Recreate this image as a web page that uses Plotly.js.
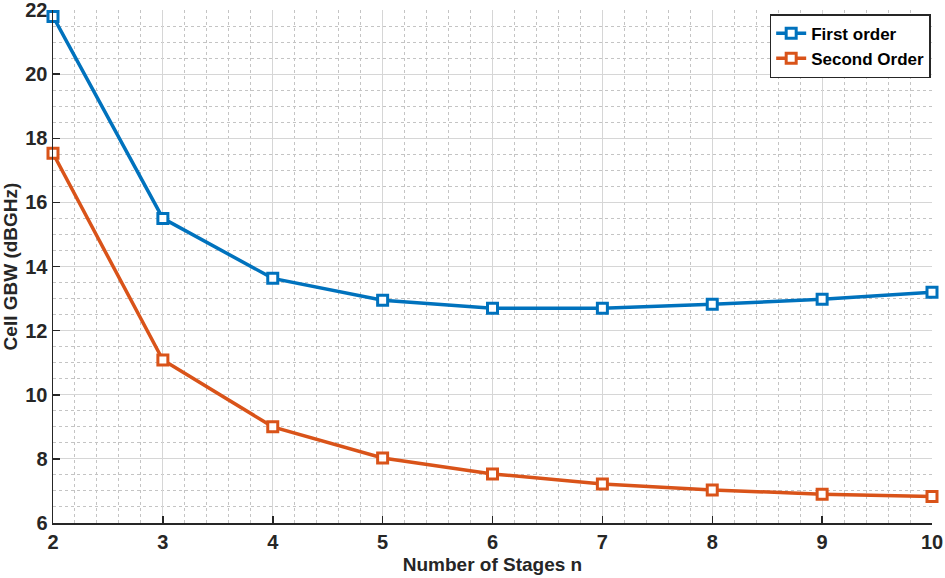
<!DOCTYPE html>
<html>
<head>
<meta charset="utf-8">
<script src="https://cdn.plot.ly/plotly-3.0.1.min.js"></script>
<style>html,body{margin:0;padding:0;background:#fff}#chart{width:945px;height:578px}</style>
</head>
<body>
<div id="chart"></div>
<script>
const stages = [2, 3, 4, 5, 6, 7, 8, 9, 10];
const firstOrder = [21.8, 15.5, 13.63, 12.95, 12.7, 12.7, 12.82, 12.98, 13.2];
const secondOrder = [17.53, 11.08, 9.0, 8.03, 7.53, 7.22, 7.03, 6.9, 6.83];
const seriesNames = ['First order', 'Second Order'];
const xTicks = [2, 3, 4, 5, 6, 7, 8, 9, 10];
const yTicks = [6, 8, 10, 12, 14, 16, 18, 20, 22];

const FONT = 'Liberation Sans, Arial, sans-serif';
function trace(y, name, color) {
  return {
    x: stages, y: y, name: name, type: 'scatter', mode: 'lines+markers',
    line: {color: color, width: 3.5},
    marker: {symbol: 'square', size: 10, color: '#ffffff', line: {color: color, width: 3}},
    cliponaxis: false
  };
}
const data = [
  trace(firstOrder, seriesNames[0], '#0072BD'),
  trace(secondOrder, seriesNames[1], '#D95319')
];
const axisCommon = {
  showline: true, linecolor: '#262626', linewidth: 1.5,
  ticks: 'inside', ticklen: 7, tickwidth: 1.5, tickcolor: '#262626',
  showgrid: true, gridcolor: '#d6d6d6', gridwidth: 1.2,
  zeroline: false, ticklabeloverflow: 'allow',
  tickfont: {family: FONT, size: 20, color: '#262626', weight: 'bold'}
};
const layout = {
  width: 945, height: 578,
  margin: {l: 53, r: 13, t: 10, b: 55},
  paper_bgcolor: '#ffffff', plot_bgcolor: '#ffffff',
  showlegend: true,
  legend: {
    x: 0.9985, y: 0.992, xanchor: 'right', yanchor: 'top',
    bgcolor: '#ffffff', bordercolor: '#262626', borderwidth: 1.5,
    font: {family: FONT, size: 17, color: '#000', weight: 'bold'},
    tracegroupgap: 0, itemwidth: 30
  },
  xaxis: Object.assign({}, axisCommon, {
    range: [2, 10], tickvals: xTicks, ticktext: xTicks.map(String),
    title: {text: 'Number of Stages n', font: {family: FONT, size: 19, color: '#262626', weight: 'bold'}, standoff: 6},
    minor: {dtick: 0.2, tick0: 2, showgrid: true, gridcolor: '#c4c4c4', griddash: 'dot', gridwidth: 1, ticks: ''}
  }),
  yaxis: Object.assign({}, axisCommon, {
    range: [6, 22], tickvals: yTicks, ticktext: yTicks.map(String),
    title: {text: 'Cell GBW (dBGHz)', font: {family: FONT, size: 19, color: '#262626', weight: 'bold'}, standoff: 4},
    minor: {dtick: 0.5, tick0: 6, showgrid: true, gridcolor: '#c4c4c4', griddash: 'dot', gridwidth: 1, ticks: ''}
  })
};
Plotly.newPlot('chart', data, layout, {displayModeBar: false, staticPlot: true});
</script>
</body>
</html>
